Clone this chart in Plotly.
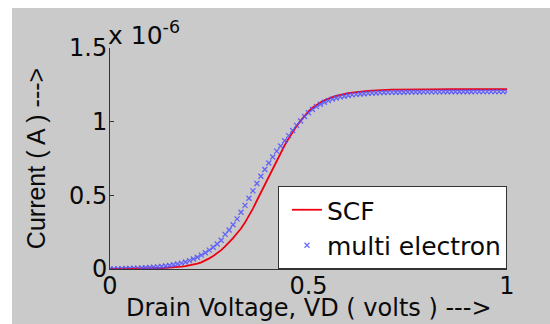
import plotly.graph_objects as go

# Drain voltage (V)
vd = [round(i * 0.01, 2) for i in range(101)]

# SCF current (units of 1e-6 A)
scf = [0.000, 0.000, 0.000, 0.001, 0.001, 0.001, 0.002, 0.002, 0.002, 0.003,
       0.003, 0.004, 0.005, 0.006, 0.007, 0.009, 0.011, 0.013, 0.016, 0.019,
       0.023, 0.029, 0.036, 0.045, 0.057, 0.072, 0.088, 0.106, 0.128, 0.153,
       0.180, 0.210, 0.243, 0.275, 0.315, 0.360, 0.410, 0.465, 0.520, 0.575,
       0.630, 0.685, 0.740, 0.790, 0.840, 0.885, 0.930, 0.970, 1.005, 1.040,
       1.070, 1.095, 1.115, 1.130, 1.145, 1.157, 1.167, 1.175, 1.182, 1.188,
       1.193, 1.197, 1.201, 1.204, 1.207, 1.209, 1.211, 1.213, 1.214, 1.215,
       1.216, 1.217, 1.217, 1.218, 1.218, 1.218, 1.219, 1.219, 1.219, 1.219,
       1.219, 1.220, 1.220, 1.220, 1.220, 1.220, 1.220, 1.220, 1.220, 1.220,
       1.220, 1.220, 1.220, 1.220, 1.220, 1.220, 1.220, 1.220, 1.220, 1.220,
       1.220]

# Multi electron current (units of 1e-6 A)
multi = [0.000, 0.001, 0.001, 0.002, 0.003, 0.004, 0.005, 0.006, 0.007, 0.009,
         0.010, 0.012, 0.014, 0.017, 0.020, 0.024, 0.029, 0.034, 0.040, 0.048,
         0.057, 0.068, 0.080, 0.094, 0.110, 0.128, 0.148, 0.170, 0.195, 0.235,
         0.265, 0.300, 0.340, 0.385, 0.432, 0.480, 0.530, 0.580, 0.630, 0.675,
         0.720, 0.760, 0.800, 0.835, 0.870, 0.905, 0.940, 0.975, 1.005, 1.035,
         1.060, 1.083, 1.102, 1.118, 1.132, 1.143, 1.153, 1.161, 1.168, 1.173,
         1.178, 1.182, 1.185, 1.188, 1.190, 1.192, 1.194, 1.195, 1.197, 1.198,
         1.199, 1.199, 1.200, 1.200, 1.200, 1.201, 1.201, 1.201, 1.201, 1.202,
         1.202, 1.202, 1.202, 1.202, 1.203, 1.203, 1.203, 1.203, 1.203, 1.203,
         1.203, 1.203, 1.204, 1.204, 1.204, 1.204, 1.204, 1.204, 1.204, 1.204,
         1.204]

x_ticks = [0, 0.5, 1]
x_tick_labels = ["0", "0.5", "1"]
y_ticks = [0, 0.5, 1, 1.5]
y_tick_labels = ["0", "0.5", "1", "1.5"]
x_title = "Drain Voltage, VD ( volts ) --->"
y_title = "Current ( A ) --->"

FONT_H = "DejaVu Sans"
FONT_V = "Liberation Sans"
TXT = "#0a0a0a"
GRAY = "#cacaca"
FS = 24

fig = go.Figure()
fig.add_trace(go.Scatter(x=vd, y=scf, mode="lines", name="SCF",
                         line=dict(color="#f00010", width=1.8)))
fig.add_trace(go.Scatter(x=vd, y=multi, mode="markers", name="multi electron",
                         marker=dict(symbol="x-thin-open", size=5,
                                     line=dict(color="rgba(80,80,255,0.85)", width=1.3),
                                     color="rgba(80,80,255,0.85)")))

W, H = 550, 324
L, R, T, B = 110, 43, 48, 55
pw, ph = W - L - R, H - T - B

# gray figure background (offset: white strip at top and left)
fig.add_shape(type="rect", xref="paper", yref="paper", layer="below",
              x0=(12 - L) / pw, x1=(W - L) / pw + 0.01,
              y0=-(B + 2) / ph, y1=(H - 8 - B) / ph,
              fillcolor=GRAY, line=dict(width=0))

# exponent label
fig.add_annotation(xref="paper", yref="paper", x=-0.01, y=1.0, yshift=-4,
                   xanchor="left", yanchor="bottom", showarrow=False,
                   text="x 10<sup>-6</sup>",
                   font=dict(family=FONT_H, size=25, color=TXT))

# x-axis title at the bottom edge of the window
fig.add_annotation(xref="paper", yref="paper", x=0.5, y=-B / ph, yshift=0,
                   xanchor="center", yanchor="bottom", showarrow=False,
                   text=x_title,
                   font=dict(family=FONT_H, size=FS, color=TXT))

fig.update_layout(
    width=W, height=H,
    margin=dict(l=L, r=R, t=T, b=B, pad=0, autoexpand=False),
    paper_bgcolor="white",
    plot_bgcolor="white",
    showlegend=True,
    legend=dict(x=1, y=0, xanchor="right", yanchor="bottom",
                bgcolor="white", bordercolor="#333333", borderwidth=1,
                font=dict(family=FONT_H, size=25, color=TXT),
                tracegroupgap=0, itemwidth=30, indentation=8),
    xaxis=dict(range=[0, 1], tickvals=x_ticks, ticktext=x_tick_labels,
               automargin=False, ticklabelstandoff=-5,
               ticks="inside", ticklen=4, tickcolor="#333333",
               showline=True, linecolor="#333333", linewidth=1,
               showgrid=False, zeroline=False,
               tickfont=dict(family=FONT_H, size=FS, color=TXT)),
    yaxis=dict(range=[0, 1.5], tickvals=y_ticks, ticktext=y_tick_labels,
               automargin=False, ticklabelstandoff=-3,
               ticks="inside", ticklen=4, tickcolor="#333333",
               showline=True, linecolor="#333333", linewidth=1,
               showgrid=False, zeroline=False,
               tickfont=dict(family=FONT_H, size=FS, color=TXT),
               title=dict(text=y_title,
                          font=dict(family=FONT_V, size=25, color=TXT),
                          standoff=16)),
)

fig.write_html("out.html")
